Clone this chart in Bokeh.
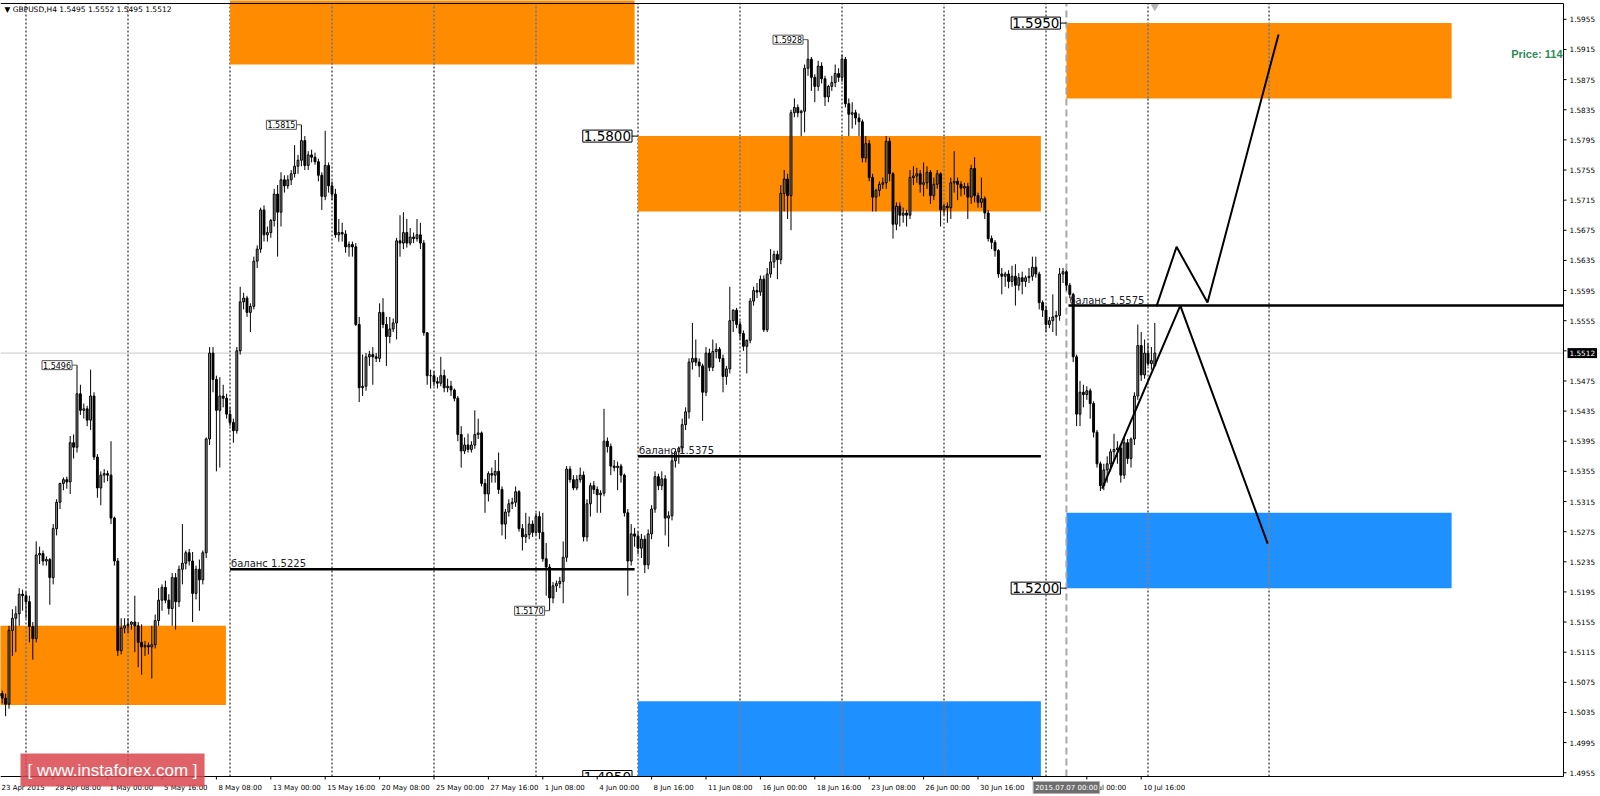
from bokeh.plotting import figure
from bokeh.models import ColumnDataSource, Range1d
from bokeh.embed import file_html
from bokeh.resources import INLINE
from bokeh.core.properties import value

# ---------------- data (GBPUSD H4, bar index 0 = 23 Apr 2015 16:00) ----------------
opens = [
    1.5057,1.5060,1.5054,1.5046,1.5144,1.5160,1.5166,1.5192,1.5190,1.5182,
    1.5149,1.5133,1.5244,1.5246,1.5236,1.5238,1.5214,1.5279,1.5314,1.5339,
    1.5344,1.5341,1.5393,1.5387,1.5458,1.5436,1.5438,1.5423,1.5455,1.5374,
    1.5333,1.5350,1.5352,1.5350,1.5293,1.5236,1.5117,1.5147,1.5150,1.5152,
    1.5155,1.5150,1.5128,1.5122,1.5124,1.5122,1.5125,1.5157,1.5184,1.5201,
    1.5184,1.5173,1.5214,1.5182,1.5225,1.5233,1.5247,1.5236,1.5193,1.5225,
    1.5211,1.5247,1.5398,1.5512,1.5477,1.5436,1.5455,1.5452,1.5431,1.5420,
    1.5409,1.5515,1.5580,1.5585,1.5566,1.5574,1.5634,1.5650,1.5702,1.5669,
    1.5672,1.5688,1.5723,1.5699,1.5742,1.5734,1.5742,1.5750,
    1.5760,1.5768,1.5794,1.5761,1.5775,1.5772,1.5766,1.5748,1.5720,1.5761,
    1.5734,1.5723,1.5669,1.5672,1.5670,1.5653,1.5656,1.5653,1.5550,1.5466,
    1.5468,1.5507,1.5510,1.5507,1.5505,1.5566,1.5550,1.5534,1.5544,1.5552,
    1.5661,1.5658,1.5672,1.5658,1.5666,1.5664,1.5669,1.5658,1.5539,1.5482,
    1.5482,1.5474,1.5472,1.5482,1.5466,1.5468,1.5463,1.5452,1.5404,1.5382,
    1.5390,1.5384,1.5390,1.5404,1.5406,1.5339,1.5325,1.5352,1.5350,1.5355,
    1.5331,1.5285,1.5301,1.5312,1.5314,1.5328,1.5279,1.5268,1.5271,1.5285,
    1.5274,1.5295,1.5274,1.5239,1.5228,1.5187,1.5203,1.5206,1.5209,1.5241,
    1.5358,1.5344,1.5333,1.5344,1.5350,
    1.5268,1.5312,1.5336,1.5331,1.5324,1.5326,1.5395,1.5388,1.5362,1.5360,
    1.5362,1.5350,1.5300,1.5236,1.5272,1.5269,1.5253,1.5265,1.5231,1.5272,
    1.5305,1.5348,1.5336,1.5345,1.5293,1.5296,1.5369,1.5381,1.5386,1.5417,
    1.5434,1.5500,1.5505,1.5500,1.5495,1.5460,1.5512,1.5493,1.5514,1.5517,
    1.5505,1.5481,1.5491,1.5555,1.5569,1.5550,1.5538,1.5521,1.5529,1.5581,
    1.5595,1.5593,1.5610,1.5543,1.5617,1.5633,1.5643,1.5636,1.5724,1.5743,
    1.5721,1.5831,1.5838,1.5831,1.5833,1.5890,1.5902,1.5878,1.5866,1.5893,
    1.5876,1.5852,1.5866,1.5871,1.5883,1.5878,1.5902,1.5843,1.5829,1.5831,
    1.5824,1.5819,1.5771,1.5790,1.5745,1.5719,
    1.5728,1.5736,1.5738,1.5793,1.5750,1.5683,1.5707,1.5695,1.5698,1.5695,
    1.5745,1.5747,1.5750,1.5736,1.5738,1.5752,1.5721,1.5736,1.5750,1.5702,
    1.5707,1.5705,1.5738,1.5740,1.5736,1.5731,1.5733,1.5719,1.5757,1.5721,
    1.5712,1.5717,1.5698,1.5664,1.5659,1.5648,1.5617,1.5614,1.5617,1.5607,
    1.5614,1.5602,1.5612,1.5607,1.5612,1.5614,1.5626,1.5617,1.5579,1.5569,
    1.5550,1.5555,1.5560,1.5562,1.5617,1.5620,1.5602,1.5590,1.5507,1.5431,
    1.5460,1.5457,1.5462,1.5445,1.5407,1.5365,1.5336,1.5357,1.5365,1.5381,
    1.5384,1.5386,1.5350,1.5393,1.5372,1.5398,1.5455,1.5522,1.5483,1.5512,
    1.5498,1.5495,
]
highs = [
    1.5068,1.5064,1.5060,1.5150,1.5172,1.5176,1.5200,1.5198,1.5195,1.5190,
    1.5155,1.5262,1.5255,1.5250,1.5242,1.5240,1.5285,1.5318,1.5340,1.5347,
    1.5348,1.5402,1.5404,1.5496,1.5470,1.5445,1.5442,1.5490,1.5460,1.5378,
    1.5355,1.5358,1.5356,1.5395,1.5295,1.5240,1.5160,1.5160,1.5160,1.5156,
    1.5190,1.5155,1.5152,1.5130,1.5128,1.5150,1.5165,1.5200,1.5205,1.5210,
    1.5192,1.5220,1.5220,1.5230,1.5285,1.5250,1.5252,1.5248,1.5230,1.5238,
    1.5250,1.5400,1.5520,1.5520,1.5482,1.5480,1.5470,1.5458,1.5440,1.5425,
    1.5520,1.5600,1.5592,1.5588,1.5578,1.5640,1.5655,1.5705,1.5708,1.5680,
    1.5690,1.5730,1.5735,1.5752,1.5748,1.5748,1.5755,1.5788,
    1.5775,1.5815,1.5800,1.5780,1.5782,1.5778,1.5770,1.5752,1.5807,1.5765,
    1.5740,1.5730,1.5690,1.5685,1.5675,1.5660,1.5660,1.5658,1.5560,1.5510,
    1.5512,1.5515,1.5520,1.5512,1.5578,1.5585,1.5560,1.5560,1.5558,1.5665,
    1.5695,1.5699,1.5690,1.5678,1.5672,1.5690,1.5685,1.5662,1.5540,1.5490,
    1.5488,1.5480,1.5507,1.5490,1.5478,1.5475,1.5465,1.5455,1.5415,1.5400,
    1.5405,1.5395,1.5436,1.5425,1.5408,1.5345,1.5355,1.5360,1.5370,1.5380,
    1.5335,1.5305,1.5318,1.5320,1.5335,1.5330,1.5285,1.5300,1.5295,1.5290,
    1.5300,1.5302,1.5300,1.5260,1.5232,1.5208,1.5210,1.5215,1.5262,1.5362,
    1.5362,1.5350,1.5350,1.5360,1.5355,
    1.5318,1.5340,1.5342,1.5335,1.5330,1.5438,1.5400,1.5392,1.5370,1.5368,
    1.5365,1.5352,1.5305,1.5285,1.5280,1.5275,1.5272,1.5270,1.5278,1.5310,
    1.5355,1.5352,1.5355,1.5350,1.5302,1.5380,1.5385,1.5388,1.5425,1.5440,
    1.5505,1.5552,1.5530,1.5505,1.5498,1.5520,1.5518,1.5530,1.5525,1.5520,
    1.5510,1.5495,1.5600,1.5570,1.5572,1.5555,1.5542,1.5530,1.5585,1.5600,
    1.5605,1.5615,1.5615,1.5625,1.5650,1.5648,1.5648,1.5735,1.5755,1.5750,
    1.5835,1.5850,1.5842,1.5835,1.5895,1.5928,1.5905,1.5882,1.5900,1.5898,
    1.5880,1.5868,1.5880,1.5895,1.5890,1.5908,1.5905,1.5850,1.5845,1.5835,
    1.5830,1.5822,1.5800,1.5795,1.5750,1.5730,
    1.5740,1.5745,1.5800,1.5798,1.5752,1.5712,1.5712,1.5705,1.5702,1.5755,
    1.5760,1.5758,1.5755,1.5765,1.5760,1.5755,1.5745,1.5755,1.5752,1.5710,
    1.5712,1.5745,1.5780,1.5745,1.5740,1.5738,1.5738,1.5762,1.5772,1.5725,
    1.5745,1.5720,1.5702,1.5668,1.5662,1.5650,1.5625,1.5620,1.5622,1.5628,
    1.5630,1.5618,1.5620,1.5615,1.5625,1.5640,1.5640,1.5620,1.5582,1.5575,
    1.5560,1.5590,1.5568,1.5625,1.5625,1.5622,1.5605,1.5592,1.5510,1.5475,
    1.5470,1.5468,1.5465,1.5448,1.5410,1.5368,1.5365,1.5375,1.5385,1.5405,
    1.5395,1.5390,1.5400,1.5398,1.5400,1.5460,1.5550,1.5540,1.5530,1.5525,
    1.5520,1.5552,
]
lows = [
    1.5030,1.5047,1.5030,1.5040,1.5110,1.5115,1.5150,1.5170,1.5160,1.5128,
    1.5105,1.5128,1.5232,1.5230,1.5230,1.5178,1.5205,1.5270,1.5305,1.5330,
    1.5332,1.5325,1.5372,1.5380,1.5430,1.5425,1.5415,1.5410,1.5370,1.5320,
    1.5310,1.5340,1.5342,1.5285,1.5230,1.5110,1.5112,1.5140,1.5140,1.5145,
    1.5115,1.5095,1.5085,1.5110,1.5112,1.5080,1.5120,1.5150,1.5170,1.5180,
    1.5165,1.5150,1.5145,1.5175,1.5205,1.5225,1.5230,1.5155,1.5185,1.5170,
    1.5205,1.5240,1.5390,1.5460,1.5355,1.5360,1.5440,1.5425,1.5415,1.5393,
    1.5405,1.5510,1.5570,1.5560,1.5540,1.5570,1.5625,1.5645,1.5660,1.5660,
    1.5665,1.5680,1.5640,1.5680,1.5725,1.5730,1.5735,1.5745,
    1.5750,1.5760,1.5755,1.5755,1.5765,1.5762,1.5740,1.5702,1.5715,1.5725,
    1.5715,1.5665,1.5660,1.5660,1.5645,1.5640,1.5640,1.5548,1.5447,1.5455,
    1.5462,1.5495,1.5470,1.5500,1.5500,1.5545,1.5495,1.5525,1.5540,1.5530,
    1.5640,1.5650,1.5652,1.5655,1.5658,1.5660,1.5650,1.5535,1.5470,1.5465,
    1.5468,1.5465,1.5468,1.5460,1.5460,1.5455,1.5448,1.5395,1.5360,1.5378,
    1.5380,1.5380,1.5385,1.5398,1.5335,1.5300,1.5315,1.5340,1.5340,1.5325,
    1.5270,1.5265,1.5295,1.5305,1.5308,1.5275,1.5250,1.5260,1.5265,1.5268,
    1.5270,1.5265,1.5235,1.5190,1.5170,1.5180,1.5195,1.5200,1.5180,1.5235,
    1.5340,1.5330,1.5330,1.5340,1.5262,
    1.5262,1.5295,1.5325,1.5300,1.5300,1.5322,1.5380,1.5350,1.5355,1.5330,
    1.5340,1.5295,1.5190,1.5230,1.5255,1.5245,1.5240,1.5220,1.5225,1.5265,
    1.5300,1.5330,1.5330,1.5270,1.5255,1.5290,1.5360,1.5365,1.5380,1.5410,
    1.5425,1.5490,1.5495,1.5480,1.5422,1.5455,1.5488,1.5488,1.5505,1.5500,
    1.5460,1.5470,1.5485,1.5540,1.5545,1.5530,1.5515,1.5485,1.5525,1.5575,
    1.5585,1.5588,1.5540,1.5540,1.5612,1.5625,1.5610,1.5630,1.5700,1.5690,
    1.5675,1.5825,1.5825,1.5800,1.5805,1.5880,1.5860,1.5845,1.5860,1.5870,
    1.5840,1.5845,1.5860,1.5865,1.5872,1.5872,1.5838,1.5800,1.5810,1.5815,
    1.5800,1.5765,1.5765,1.5740,1.5700,1.5700,
    1.5720,1.5730,1.5730,1.5740,1.5664,1.5675,1.5680,1.5685,1.5680,1.5690,
    1.5735,1.5738,1.5725,1.5720,1.5730,1.5710,1.5715,1.5730,1.5680,1.5695,
    1.5685,1.5690,1.5725,1.5715,1.5720,1.5722,1.5690,1.5710,1.5712,1.5705,
    1.5705,1.5690,1.5660,1.5650,1.5640,1.5612,1.5590,1.5600,1.5598,1.5600,
    1.5575,1.5595,1.5590,1.5600,1.5605,1.5608,1.5612,1.5570,1.5560,1.5540,
    1.5545,1.5540,1.5535,1.5555,1.5605,1.5595,1.5585,1.5500,1.5415,1.5415,
    1.5440,1.5450,1.5425,1.5400,1.5360,1.5329,1.5330,1.5340,1.5355,1.5370,
    1.5365,1.5340,1.5345,1.5365,1.5360,1.5390,1.5450,1.5475,1.5478,1.5495,
    1.5490,1.5495,
]
closes = [
    1.5060,1.5054,1.5046,1.5144,1.5160,1.5166,1.5192,1.5190,1.5182,1.5149,
    1.5133,1.5244,1.5246,1.5236,1.5238,1.5214,1.5279,1.5314,1.5339,1.5344,
    1.5341,1.5393,1.5387,1.5458,1.5436,1.5438,1.5423,1.5455,1.5374,1.5333,
    1.5350,1.5352,1.5350,1.5293,1.5236,1.5117,1.5147,1.5150,1.5152,1.5155,
    1.5150,1.5128,1.5122,1.5124,1.5122,1.5125,1.5157,1.5184,1.5201,1.5184,
    1.5173,1.5214,1.5182,1.5225,1.5233,1.5247,1.5236,1.5193,1.5225,1.5211,
    1.5247,1.5398,1.5512,1.5477,1.5436,1.5455,1.5452,1.5431,1.5420,1.5409,
    1.5515,1.5580,1.5585,1.5566,1.5574,1.5634,1.5650,1.5702,1.5669,1.5672,
    1.5688,1.5723,1.5699,1.5742,1.5734,1.5742,1.5750,1.5760,
    1.5768,1.5794,1.5761,1.5775,1.5772,1.5766,1.5748,1.5720,1.5761,1.5734,
    1.5723,1.5669,1.5672,1.5670,1.5653,1.5656,1.5653,1.5550,1.5466,1.5468,
    1.5507,1.5510,1.5507,1.5505,1.5566,1.5550,1.5534,1.5544,1.5552,1.5661,
    1.5658,1.5672,1.5658,1.5666,1.5664,1.5669,1.5658,1.5539,1.5482,1.5482,
    1.5474,1.5472,1.5482,1.5466,1.5468,1.5463,1.5452,1.5404,1.5382,1.5390,
    1.5384,1.5390,1.5404,1.5406,1.5339,1.5325,1.5352,1.5350,1.5355,1.5331,
    1.5285,1.5301,1.5312,1.5314,1.5328,1.5279,1.5268,1.5271,1.5285,1.5274,
    1.5295,1.5274,1.5239,1.5228,1.5187,1.5203,1.5206,1.5209,1.5241,1.5358,
    1.5344,1.5333,1.5344,1.5350,1.5268,
    1.5312,1.5336,1.5331,1.5324,1.5326,1.5395,1.5388,1.5362,1.5360,1.5362,
    1.5350,1.5300,1.5236,1.5272,1.5269,1.5253,1.5265,1.5231,1.5272,1.5305,
    1.5348,1.5336,1.5345,1.5293,1.5296,1.5369,1.5381,1.5386,1.5417,1.5434,
    1.5500,1.5505,1.5500,1.5495,1.5460,1.5512,1.5493,1.5514,1.5517,1.5505,
    1.5481,1.5491,1.5555,1.5569,1.5550,1.5538,1.5521,1.5529,1.5581,1.5595,
    1.5593,1.5610,1.5543,1.5617,1.5633,1.5643,1.5636,1.5724,1.5743,1.5721,
    1.5831,1.5838,1.5831,1.5833,1.5890,1.5902,1.5878,1.5866,1.5893,1.5876,
    1.5852,1.5866,1.5871,1.5883,1.5878,1.5902,1.5843,1.5829,1.5831,1.5824,
    1.5819,1.5771,1.5790,1.5745,1.5719,1.5728,
    1.5736,1.5738,1.5793,1.5750,1.5683,1.5707,1.5695,1.5698,1.5695,1.5745,
    1.5747,1.5750,1.5736,1.5738,1.5752,1.5721,1.5736,1.5750,1.5702,1.5707,
    1.5705,1.5738,1.5740,1.5736,1.5731,1.5733,1.5719,1.5757,1.5721,1.5712,
    1.5717,1.5698,1.5664,1.5659,1.5648,1.5617,1.5614,1.5617,1.5607,1.5614,
    1.5602,1.5612,1.5607,1.5612,1.5614,1.5626,1.5617,1.5579,1.5569,1.5550,
    1.5555,1.5560,1.5562,1.5617,1.5620,1.5602,1.5590,1.5507,1.5431,1.5460,
    1.5457,1.5462,1.5445,1.5407,1.5365,1.5336,1.5357,1.5365,1.5381,1.5384,
    1.5386,1.5350,1.5393,1.5372,1.5398,1.5455,1.5522,1.5483,1.5512,1.5498,
    1.5502,1.5512,
]

date_tick_bars = [0, 16, 32, 48, 64, 80, 96, 112, 128, 144, 160, 176, 192, 208, 224, 240, 256, 272, 288, 304, 320, 336]
date_tick_labels = ["23 Apr 2015", "28 Apr 08:00", "1 May 00:00", "5 May 16:00", "8 May 08:00", "13 May 00:00",
                    "15 May 16:00", "20 May 08:00", "25 May 00:00", "27 May 16:00", "1 Jun 08:00", "4 Jun 00:00",
                    "8 Jun 16:00", "11 Jun 08:00", "16 Jun 00:00", "18 Jun 16:00", "23 Jun 08:00", "26 Jun 00:00",
                    "30 Jun 16:00", "3 Jul 08:00", "8 Jul 00:00", "10 Jul 16:00"]
price_ticks = [1.4955, 1.4995, 1.5035, 1.5075, 1.5115, 1.5155, 1.5195, 1.5235, 1.5275, 1.5315, 1.5355, 1.5395, 1.5435,
               1.5475, 1.5515, 1.5555, 1.5595, 1.5635, 1.5675, 1.5715, 1.5755, 1.5795, 1.5835, 1.5875, 1.5915, 1.5955]

week_separator_bars = [8, 38, 68, 98, 128, 158, 188, 218, 248, 278, 308, 338, 373.6]
current_time_bar = 314
current_time_text = "2015.07.07 00:00"
current_price = 1.5512
header_text = "\u25bc GBPUSD,H4  1.5495 1.5552 1.5495 1.5512"
info_text = "Price: 114"
watermark_text = "[ www.instaforex.com ]"

zone_left = [-1, 68, 188, 188, 314, 314]
zone_right = [66.8, 187, 306.5, 306.5, 427.3, 427.3]
zone_bottom = [1.5045, 1.5895, 1.5700, 1.4950, 1.5850, 1.5200]
zone_top = [1.5150, 1.6000, 1.5800, 1.5050, 1.5950, 1.5300]
zone_color = ["#FF8C00", "#FF8C00", "#FF8C00", "#1E90FF", "#FF8C00", "#1E90FF"]

balance_start = [68, 188, 314.6]
balance_end = [187, 306.5, None]          # None = to the right edge of the chart
balance_level = [1.5225, 1.5375, 1.5575]

path_a_bars = [324.5, 347.5, 373.2]
path_a_prices = [1.5332, 1.5575, 1.5259]
path_b_bars = [340.5, 346.4, 355.5, 376.4]
path_b_prices = [1.5574, 1.5653, 1.5579, 1.5935]

mark_bars = [23, 89, 238, 162]
mark_prices = [1.5496, 1.5815, 1.5928, 1.5170]
level_bars = [188, 314, 314, 188]
level_prices = [1.5800, 1.5950, 1.5200, 1.4950]

# ---------------- layout ----------------
FONT = "DejaVu Sans"
W, H = 1600, 796
BAR_PX = 3.4                               # pixels per bar
x_lo = 1.7 / BAR_PX                        # left edge of the canvas in bar units
x_hi = x_lo + W / BAR_PX
chart_top, chart_bottom = 1.5976, 1.4950   # chart area price limits (canvas y 3 .. 776)
PRICE_PX = 773.0 / (chart_top - chart_bottom)
y_hi = chart_top + 3.0 / PRICE_PX
y_lo = y_hi - H / PRICE_PX


def dx(px):
    return px / BAR_PX


def dy(px):
    return px / PRICE_PX


chart_right = x_lo + dx(1563)              # right price-axis line

p = figure(frame_width=W, frame_height=H, x_range=Range1d(x_lo, x_hi), y_range=Range1d(y_lo, y_hi),
           x_axis_location=None, y_axis_location=None, output_backend="svg", toolbar_location=None,
           min_border_left=0, min_border_right=0, min_border_top=0, min_border_bottom=0)
p.grid.visible = False
p.outline_line_color = None
p.background_fill_color = "white"
p.border_fill_color = "white"

# week separators (black dotted)
n_sep = len(week_separator_bars)
p.segment(x0=week_separator_bars, y0=[chart_bottom] * n_sep, x1=week_separator_bars, y1=[chart_top] * n_sep,
          line_color="black", line_width=1, line_dash="2 2")

# zones
p.quad(left=zone_left, right=zone_right, bottom=zone_bottom, top=zone_top, fill_color=zone_color, line_color=None)


def inverse(c):
    r, g, b = int(c[1:3], 16), int(c[3:5], 16), int(c[5:7], 16)
    return "#%02x%02x%02x" % (255 - r, 255 - g, 255 - b)


inv_x, inv_y0, inv_y1, inv_c = [], [], [], []
for sx in week_separator_bars:
    for l, r, b, t, c in zip(zone_left, zone_right, zone_bottom, zone_top, zone_color):
        if l < sx < r:
            inv_x.append(sx)
            inv_y0.append(max(b, chart_bottom))
            inv_y1.append(min(t, chart_top))
            inv_c.append(inverse(c))
p.segment(x0=inv_x, y0=inv_y0, x1=inv_x, y1=inv_y1, line_color=inv_c, line_width=1, line_dash="2 2")

# current price line and current-time line
p.segment(x0=[x_lo], y0=[current_price], x1=[chart_right], y1=[current_price], line_color="#C8C8C8", line_width=1)
p.segment(x0=[current_time_bar], y0=[chart_bottom], x1=[current_time_bar], y1=[chart_top],
          line_color="#A8A8A8", line_width=2, line_dash="7 4")

# candles
bar_index = list(range(len(closes)))
src = ColumnDataSource(dict(
    x=bar_index, h=highs, l=lows,
    top=[max(o, c) for o, c in zip(opens, closes)],
    bottom=[min(o, c) for o, c in zip(opens, closes)],
    fill=["#8C8C8C" if c >= o else "black" for o, c in zip(opens, closes)],
))
p.segment(x0="x", y0="l", x1="x", y1="h", source=src, line_color="black", line_width=1)
p.vbar(x="x", width=0.55, top="top", bottom="bottom", fill_color="fill", line_color="black",
       line_width=1, source=src)

# chart-shift marker
p.scatter(x=[bar_index[-1]], y=[chart_top - dy(3)], marker="inverted_triangle", size=7,
          fill_color="#B4B4B4", line_color="#B4B4B4")

# balance lines
b_end = [e if e is not None else chart_right for e in balance_end]
p.segment(x0=balance_start, y0=balance_level, x1=b_end, y1=balance_level, line_color="black", line_width=2.5)
p.text(x=balance_start, y=balance_level, text=["баланс %.4f" % v for v in balance_level],
       text_font=value(FONT), text_font_size="10px", text_color="#1C1C2C",
       text_baseline="bottom", text_align="left", x_offset=1)

# forecast paths
p.line(path_a_bars, path_a_prices, line_color="black", line_width=2)
p.line(path_b_bars, path_b_prices, line_color="black", line_width=2)

# high/low marks
p.segment(x0=[b - dx(6) for b in mark_bars], y0=mark_prices, x1=mark_bars, y1=mark_prices,
          line_color="#555555", line_width=1)
p.text(x=[b - dx(5) for b in mark_bars], y=mark_prices, text=["%.4f" % v for v in mark_prices],
       text_align="right", text_baseline="middle", text_font=value(FONT), text_font_size="8px",
       text_color="black", background_fill_color="white", border_line_color="#555555", padding=1)

# level labels
p.segment(x0=[b - dx(6) for b in level_bars], y0=level_prices, x1=level_bars, y1=level_prices,
          line_color="black", line_width=1)
p.text(x=[b - dx(6) for b in level_bars], y=level_prices, text=["%.4f" % v for v in level_prices],
       text_align="right", text_baseline="middle", text_font=value(FONT), text_font_size="13.5px",
       text_color="black", background_fill_color="white", border_line_color="black", padding=1)

# header and info text
p.text(x=[x_lo + dx(4)], y=[chart_top - dy(6)], text=[header_text], text_font=value(FONT),
       text_font_size="7.5px", text_color="black", text_baseline="middle", text_align="left")
p.text(x=[chart_right - dx(1)], y=[1.5909], text=[info_text], text_font=value("Liberation Sans"),
       text_font_size="11px", text_font_style="bold", text_color="#2E8B57",
       text_baseline="middle", text_align="right")

# ---- axis areas (mask, lines, ticks, labels) ----
p.quad(left=[x_lo - 1, chart_right], right=[x_hi + 1, x_hi + 1], bottom=[y_lo - 1, y_lo - 1],
       top=[chart_bottom, y_hi + 1], fill_color="white", line_color=None)
p.segment(x0=[x_lo, chart_right, x_lo], y0=[chart_bottom, chart_bottom, chart_top],
          x1=[chart_right, chart_right, chart_right], y1=[chart_bottom, chart_top, chart_top],
          line_color="black", line_width=1)

n_pt = len(price_ticks)
p.segment(x0=[chart_right] * n_pt, y0=price_ticks, x1=[chart_right + dx(3)] * n_pt, y1=price_ticks,
          line_color="black", line_width=1)
p.text(x=[chart_right + dx(6)] * n_pt, y=price_ticks, text=["%.4f" % v for v in price_ticks],
       text_font=value(FONT), text_font_size="7.3px", text_color="black",
       text_baseline="middle", text_align="left")

n_dt = len(date_tick_bars)
p.segment(x0=date_tick_bars, y0=[chart_bottom] * n_dt, x1=date_tick_bars, y1=[chart_bottom - dy(3)] * n_dt,
          line_color="black", line_width=1)
label_y = chart_bottom - dy(11)
p.text(x=[max(b + dx(2), x_lo + dx(1)) for b in date_tick_bars], y=[label_y] * n_dt, text=date_tick_labels,
       text_font=value(FONT), text_font_size="7px", text_color="black",
       text_baseline="middle", text_align="left")

# current price / current time highlight boxes
p.text(x=[chart_right + dx(4)], y=[current_price], text=["%.4f" % current_price], text_font=value(FONT),
       text_font_size="7.3px", text_color="white", background_fill_color="black",
       text_baseline="middle", text_align="left", padding=2)
p.text(x=[current_time_bar], y=[label_y], text=[current_time_text], text_font=value(FONT),
       text_font_size="7px", text_color="white", background_fill_color="#6E6E6E",
       border_line_color="#B0B0B0", text_baseline="middle", text_align="center", padding=2)

# watermark
p.text(x=[x_lo + dx(20)], y=[chart_bottom + dy(6.5)], text=[watermark_text], text_font=value("Liberation Sans"),
       text_font_size="17px", text_color="white", background_fill_color="#D9474F", background_fill_alpha=0.85,
       text_baseline="middle", text_align="left", padding=7)

open("out.html", "w").write(file_html(p, INLINE))
